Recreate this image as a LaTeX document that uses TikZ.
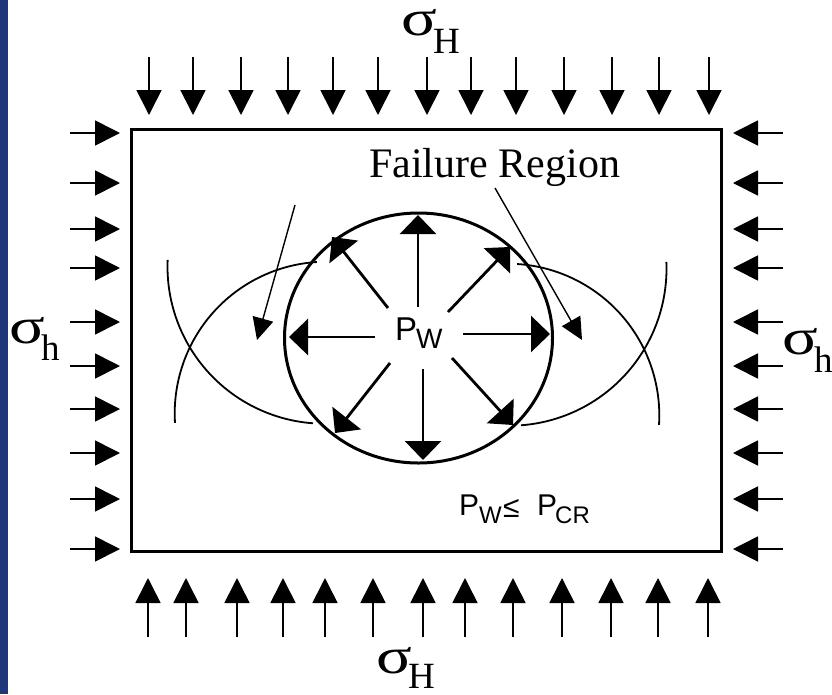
\documentclass[tikz,border=0pt]{standalone}
\usepackage{fontspec}
\setmainfont{Liberation Serif}
\newfontfamily\sansf{Liberation Sans}
\usetikzlibrary{arrows.meta}
\definecolor{strip}{RGB}{31,55,120}
\newcommand{\wsig}{\scalebox{1.3}[1]{σ}}
\begin{document}
\begin{tikzpicture}[x=1pt,y=-1pt,
  bigarrow/.style={line width=1.7pt,-{Triangle[length=25pt,width=25pt]}},
  inarrow/.style={line width=2.8pt,-{Triangle[length=19pt,width=36pt]}},
  pointer/.style={line width=1.4pt,-{Triangle[length=22pt,width=21pt]}},
  thinarc/.style={line width=1.8pt},
  lbl/.style={inner sep=0pt,anchor=base west},
  sig/.style={lbl,font=\fontsize{51}{51}\selectfont},
  sigsub/.style={lbl,font=\fontsize{37}{37}\selectfont},
  pbig/.style={lbl,font=\sansf\fontsize{33}{33}\selectfont},
  psub/.style={lbl,font=\sansf\fontsize{28}{28}\selectfont},
  qbig/.style={lbl,font=\sansf\fontsize{30}{30}\selectfont},
  qsub/.style={lbl,font=\sansf\fontsize{24}{24}\selectfont}]
\useasboundingbox (0,0) rectangle (832,694);
\fill[white] (0,0) rectangle (832,694);
\fill[strip] (0,0) rectangle (7.5,694);

% box
\draw[line width=3pt] (131,129) rectangle (721,551);

% top load arrows
\foreach \x [count=\i] in {149,193,241,288,333,378,427,471,516,564,612,659,709} {
  \coordinate (ts\i) at (\x,57);
  \coordinate (tt\i) at (\x,115);
  \draw[bigarrow] (ts\i) -- (tt\i);
}
% bottom load arrows
\foreach \x [count=\i] in {148,186,237,283,325,373,423,465,513,562,611,658,708} {
  \coordinate (bs\i) at (\x,637);
  \coordinate (bt\i) at (\x,578);
  \draw[bigarrow] (bs\i) -- (bt\i);
}
% side load arrows
\foreach \y [count=\i] in {133,183,229,268,322,366,409,453,499,549} {
  \coordinate (ls\i) at (70,\y);
  \coordinate (lt\i) at (120,\y);
  \draw[bigarrow] (ls\i) -- (lt\i);
  \coordinate (rs\i) at (783,\y);
  \coordinate (rt\i) at (733,\y);
  \draw[bigarrow] (rs\i) -- (rt\i);
}

% wellbore
\draw[line width=3pt] (418.5,338) ellipse [x radius=134, y radius=125];

% breakout arcs
\draw[thinarc] plot[domain=94.2:182.5, samples=60] ({324.5+157*cos(\x)},{266.7+157*sin(\x)});
\draw[thinarc] plot[domain=176.4:266.4, samples=60] ({326.4+151.7*cos(\x)},{413.4+151.7*sin(\x)});
\draw[thinarc] plot[domain=-2.5:85.8, samples=60] ({509.5+157*cos(\x)},{268.7+157*sin(\x)});
\draw[thinarc] plot[domain=-86.4:3.6, samples=60] ({507.6+151.7*cos(\x)},{415.4+151.7*sin(\x)});

% internal pressure arrows
\coordinate (cu0) at (418,307);  \coordinate (cu1) at (418,215);
\coordinate (cul0) at (388,308); \coordinate (cul1) at (332,237);
\coordinate (cur0) at (448,312); \coordinate (cur1) at (510,247);
\coordinate (cl0) at (375,337);  \coordinate (cl1) at (289,337);
\coordinate (cr0) at (463,334);  \coordinate (cr1) at (550,334);
\coordinate (cdl0) at (390,363); \coordinate (cdl1) at (335,433);
\coordinate (cd0) at (423,369);  \coordinate (cd1) at (423,460);
\coordinate (cdr0) at (452,358); \coordinate (cdr1) at (513,425);
\foreach \n in {cu,cul,cur,cl,cr,cdl,cd,cdr} {
  \draw[inarrow] (\n0) -- (\n1);
}

% failure region pointers
\coordinate (fpl0) at (295,205); \coordinate (fpl1) at (257,340);
\coordinate (fpr0) at (495,188); \coordinate (fpr1) at (582,340);
\draw[pointer] (fpl0) -- (fpl1);
\draw[pointer] (fpr0) -- (fpr1);

% labels
\node[lbl,font=\fontsize{42}{42}\selectfont] (fr) at (369,177) {Failure Region};

\node[sig] (sHt) at (401,35) {\wsig};
\node[sigsub] (sHtH) at (433,53) {H};
\node[sig] (sHb) at (376,673) {\wsig};
\node[sigsub] (sHbH) at (408,688) {H};
\node[sig] (shl) at (9,343) {\wsig};
\node[sigsub] (shlh) at (41,360) {h};
\node[sig] (shr) at (782,354) {\wsig};
\node[sigsub] (shrh) at (814,372) {h};

\node[pbig] (pw) at (395,340) {P};
\node[psub] (pwW) at (416,348) {W};

\node[qbig] (q1) at (459,515) {P};
\node[qsub] (q2) at (479,523) {W};
\node[lbl,font=\sansf\fontsize{30}{30}\selectfont] (q3) at (503,517) {≤};
\node[qbig] (q4) at (537,515) {P};
\node[qsub] (q5) at (555,523) {CR};
\end{tikzpicture}
\end{document}
